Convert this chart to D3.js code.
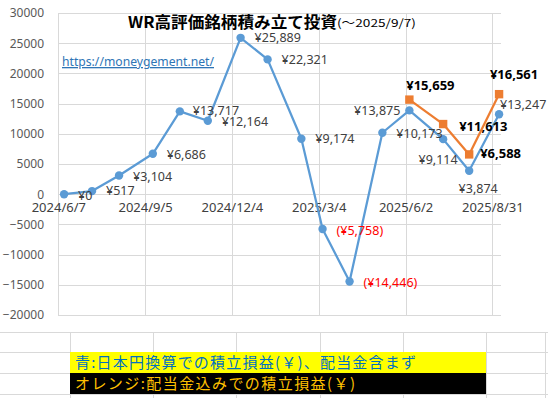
<!DOCTYPE html>
<html>
<head>
<meta charset="utf-8">
<script src="https://cdn.jsdelivr.net/npm/d3@7"></script>
<style>
  body { margin: 0; background: #fff; }
  svg { display: block; }
  text { font-family: "Noto Sans", "Noto Sans CJK JP", sans-serif; }
</style>
</head>
<body>
<div id="chart"></div>
<script>
// blue: yen-converted accumulated P/L (no dividends)
const blueDates = ["2024-06-13", "2024-07-12", "2024-08-09", "2024-09-13", "2024-10-11", "2024-11-09",
    "2024-12-13", "2025-01-10", "2025-02-14", "2025-03-08", "2025-04-05", "2025-05-09",
    "2025-06-06", "2025-07-11", "2025-08-07", "2025-09-07"];
const blueValues = [0, 517, 3104, 6686, 13717, 12164, 25889, 22321, 9174, -5758, -14446, 10173,
    13875, 9114, 3874, 13247];

// orange: including dividends
const orangeDates = ["2025-06-06", "2025-07-11", "2025-08-07", "2025-09-07"];
const orangeValues = [15659, 11613, 6588, 16561];

const xTickDates = ["2024-06-07", "2024-09-05", "2024-12-04", "2025-03-04", "2025-06-02", "2025-08-31"];
const xTickLabels = ["2024/6/7", "2024/9/5", "2024/12/4", "2025/3/4", "2025/6/2", "2025/8/31"];
const yTicks = [-20000, -15000, -10000, -5000, 0, 5000, 10000, 15000, 20000, 25000, 30000];

const titleMain = "WR高評価銘柄積み立て投資";
const titleSub = "(～2025/9/7)";
const siteUrl = "https://moneygement.net/";
const noteBlue = "青:日本円換算での積立損益(￥)、配当金含まず";
const noteOrange = "オレンジ:配当金込みでの積立損益(￥)";

// label placement [anchor, dx, dy] (layout only)
const blueLabelPos = [
    ["start", 14, 1], ["start", 14, 0], ["start", 14, 1], ["start", 14, 1], ["start", 13, -1],
    ["start", 14, 1], ["start", 14, 0], ["start", 14, 0], ["start", 14, 0], ["start", 14, 2],
    ["start", 14, 1], ["start", 14, 1], ["end", -9, 0], ["middle", -5, 20], ["middle", 9, 18],
    ["start", 1, -10]
];
const orangeLabelPos = [["middle", 21, -14], ["start", 16, 2], ["start", 11, -1], ["middle", 15, -20]];

const W = 548, H = 398;
const parse = d3.utcParse("%Y-%m-%d");

const svg = d3.select("#chart").append("svg")
    .attr("width", W)
    .attr("height", H);

// spreadsheet cells under the chart
const rowsY = [332, 352, 373, 394];
const colsX = [70, 153, 236, 320, 403, 486, 545];
const sheet = svg.append("g");
sheet.selectAll("line.r").data(rowsY).enter().append("line")
    .attr("x1", 0).attr("x2", W)
    .attr("y1", d => d + 0.5).attr("y2", d => d + 0.5)
    .attr("stroke", "#d9d9d9");
sheet.selectAll("line.c").data(colsX).enter().append("line")
    .attr("x1", d => d + 0.5).attr("x2", d => d + 0.5)
    .attr("y1", 332).attr("y2", H)
    .attr("stroke", "#d9d9d9");

sheet.append("rect").attr("x", 70).attr("y", 352).attr("width", 416).attr("height", 21).attr("fill", "#ffff00");
sheet.append("rect").attr("x", 70).attr("y", 373).attr("width", 416).attr("height", 21).attr("fill", "#000000");
sheet.append("text")
    .attr("x", 75).attr("y", 368)
    .attr("textLength", 341).attr("lengthAdjust", "spacing")
    .style("font-family", "'Noto Sans CJK JP'")
    .style("font-size", "15px")
    .attr("fill", "#0070c0")
    .text(noteBlue);
sheet.append("text")
    .attr("x", 75).attr("y", 389)
    .attr("textLength", 280).attr("lengthAdjust", "spacing")
    .style("font-family", "'Noto Sans CJK JP'")
    .style("font-size", "15px")
    .attr("fill", "#ffc000")
    .text(noteOrange);

// scales
const x = d3.scaleUtc()
    .domain([parse("2024-06-07"), parse("2025-09-09")])
    .range([58.3, 501]);
const y = d3.scaleLinear()
    .domain([-20000, 30000])
    .range([315, 13]);

// gridlines
const grid = svg.append("g");
grid.selectAll("line.h").data(yTicks).enter().append("line")
    .attr("x1", 58).attr("x2", 501)
    .attr("y1", d => Math.round(y(d)) + 0.5).attr("y2", d => Math.round(y(d)) + 0.5)
    .attr("stroke", "#d9d9d9");
grid.selectAll("line.v").data(xTickDates).enter().append("line")
    .attr("x1", d => Math.round(x(parse(d))) + 0.5).attr("x2", d => Math.round(x(parse(d))) + 0.5)
    .attr("y1", y(30000)).attr("y2", y(-20000))
    .attr("stroke", "#d9d9d9");

// axes
const yAxis = svg.append("g")
    .attr("transform", `translate(58,0)`)
    .call(d3.axisLeft(y).tickValues(yTicks).tickSize(0).tickPadding(14).tickFormat(d3.format("d")));
yAxis.select(".domain").remove();
yAxis.selectAll("text")
    .style("font-size", "12px")
    .attr("fill", "#595959");

const xAxis = svg.append("g")
    .attr("transform", `translate(0,${y(0)})`)
    .call(d3.axisBottom(x)
        .tickValues(xTickDates.map(parse))
        .tickSize(0)
        .tickPadding(9)
        .tickFormat((d, i) => xTickLabels[i]));
xAxis.select(".domain").remove();
xAxis.selectAll("text")
    .style("font-size", "13px")
    .attr("fill", "#404040");

// title and url
svg.append("text")
    .attr("x", 128).attr("y", 28)
    .attr("textLength", 209).attr("lengthAdjust", "spacingAndGlyphs")
    .style("font-family", "'Noto Sans CJK JP'")
    .style("font-size", "16px")
    .style("font-weight", "bold")
    .attr("fill", "#000")
    .text(titleMain);
svg.append("text")
    .attr("x", 337).attr("y", 27)
    .attr("textLength", 79).attr("lengthAdjust", "spacingAndGlyphs")
    .style("font-family", "'Noto Sans CJK JP'")
    .style("font-size", "11px")
    .attr("fill", "#000")
    .text(titleSub);
svg.append("text")
    .attr("x", 62).attr("y", 66)
    .attr("textLength", 152).attr("lengthAdjust", "spacingAndGlyphs")
    .style("font-size", "13px")
    .style("text-decoration", "underline")
    .attr("fill", "#2e75b6")
    .text(siteUrl);

// series
const blue = blueDates.map((d, i) => ({ date: parse(d), value: blueValues[i] }));
const orange = orangeDates.map((d, i) => ({ date: parse(d), value: orangeValues[i] }));

const line = d3.line()
    .x(d => x(d.date))
    .y(d => y(d.value));

svg.append("path")
    .datum(blue)
    .attr("d", line)
    .attr("fill", "none")
    .attr("stroke", "#5b9bd5")
    .attr("stroke-width", 2.25)
    .attr("stroke-linejoin", "round");

svg.selectAll("circle.blue")
    .data(blue)
    .enter()
    .append("circle")
    .attr("class", "blue")
    .attr("cx", d => x(d.date))
    .attr("cy", d => y(d.value))
    .attr("r", 4.2)
    .attr("fill", "#5b9bd5");

svg.append("path")
    .datum(orange)
    .attr("d", line)
    .attr("fill", "none")
    .attr("stroke", "#ed7d31")
    .attr("stroke-width", 2.25)
    .attr("stroke-linejoin", "round");

svg.selectAll("rect.orange")
    .data(orange)
    .enter()
    .append("rect")
    .attr("class", "orange")
    .attr("x", d => x(d.date) - 4.2)
    .attr("y", d => y(d.value) - 4.2)
    .attr("width", 8.4)
    .attr("height", 8.4)
    .attr("fill", "#ed7d31");

// data labels
const fmt = d3.format(",");
const yen = v => v < 0 ? `(¥${fmt(-v)})` : `¥${fmt(v)}`;

svg.selectAll("text.blue-label")
    .data(blue)
    .enter()
    .append("text")
    .attr("class", "blue-label")
    .attr("x", (d, i) => x(d.date) + blueLabelPos[i][1])
    .attr("y", (d, i) => y(d.value) + blueLabelPos[i][2])
    .attr("dy", "0.35em")
    .attr("text-anchor", (d, i) => blueLabelPos[i][0])
    .style("font-size", "12.5px")
    .attr("fill", d => d.value < 0 ? "#ff0000" : "#404040")
    .text(d => yen(d.value));

svg.selectAll("text.orange-label")
    .data(orange)
    .enter()
    .append("text")
    .attr("class", "orange-label")
    .attr("x", (d, i) => x(d.date) + orangeLabelPos[i][1])
    .attr("y", (d, i) => y(d.value) + orangeLabelPos[i][2])
    .attr("dy", "0.35em")
    .attr("text-anchor", (d, i) => orangeLabelPos[i][0])
    .style("font-size", "13px")
    .style("font-weight", "bold")
    .attr("fill", "#000")
    .text(d => yen(d.value));
</script>
</body>
</html>
